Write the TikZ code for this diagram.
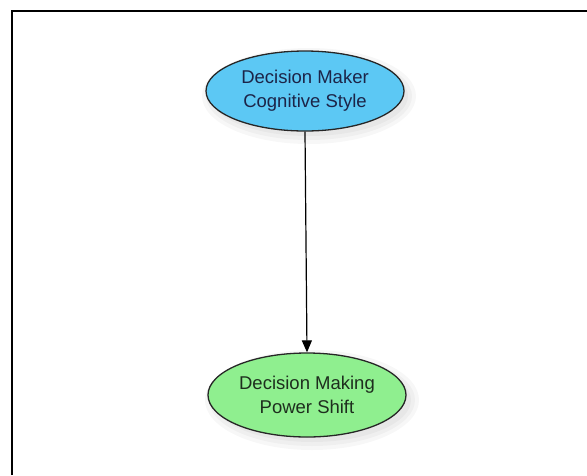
\documentclass[tikz,border=0pt]{standalone}
\usepackage{fontspec}
\setmainfont{Liberation Sans}
\usetikzlibrary{shapes.geometric,arrows.meta}
\definecolor{bluefill}{HTML}{5CC8F4}
\definecolor{greenfill}{HTML}{8FEF8F}
\definecolor{bluetext}{HTML}{1C2448}
\definecolor{greentext}{HTML}{1E2E1E}
\tikzset{
  oval/.style={ellipse, draw=black!85, line width=1.3pt, minimum width=198pt, minimum height=80pt, inner sep=0pt, align=center, font=\fontsize{18.5}{24}\selectfont},
  frameline/.style={line width=2.6pt, black}
}
\begin{document}
\begin{tikzpicture}[x=1pt,y=-1pt]
  \useasboundingbox (0,0) rectangle (587,475);
  \fill[white] (0,0) rectangle (587,475);
  \draw[frameline] (12,475) -- (12,11) -- (587,11);
  % soft shadows
  \foreach \s in {0,4,8}{
    \fill[black, opacity=0.03] (309,96) ellipse ({99+\s} and {40+\s});
    \fill[black, opacity=0.03] (312,400) ellipse ({99+\s} and {42+\s});
  }
  \node[oval, fill=bluefill, text=bluetext] (a) at (305,91) {Decision Maker\\Cognitive Style};
  \node[oval, fill=greenfill, text=greentext, minimum height=84pt] (b) at (307,395) {Decision Making\\Power Shift};
  \draw[line width=1.2pt, -{Triangle[length=12pt,width=10pt]}] (a.south) -- (b.north);
\end{tikzpicture}
\end{document}
